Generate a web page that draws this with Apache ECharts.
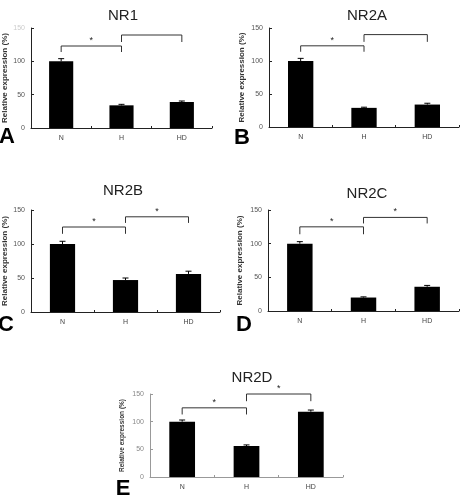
<!DOCTYPE html>
<html><head><meta charset="utf-8">
<script src="https://cdn.jsdelivr.net/npm/echarts@6/dist/echarts.min.js"></script>
<style>html,body{margin:0;padding:0;background:#fff}#c{width:464px;height:495px}</style>
</head><body><div id="c"></div>
<script>
const categories = ['N', 'H', 'HD'];
const titles = ['NR1', 'NR2A', 'NR2B', 'NR2C', 'NR2D'];
const letters = ['A', 'B', 'C', 'D', 'E'];
const yTicks = [0, 50, 100, 150];
const nr1 = [100, 34, 39];
const nr1Err = [4, 1.5, 1.5];
const nr2a = [100, 29, 34];
const nr2aErr = [4, 1, 2];
const nr2b = [100, 47, 56];
const nr2bErr = [4, 3, 4];
const nr2c = [100, 20, 36];
const nr2cErr = [3, 1, 2];
const nr2d = [100, 56, 118];
const nr2dErr = [3, 2, 3];
// brackets: [fromIndex, toIndex, topValue, legValue, star(1/0)]
const nr1Brackets = [[0, 1, 123, 114, 1], [1, 2, 139.5, 129, 0]];
const nr2aBrackets = [[0, 1, 123, 114, 1], [1, 2, 140, 129, 0]];
const nr2bBrackets = [[0, 1, 125, 115, 1], [1, 2, 140, 131, 1]];
const nr2cBrackets = [[0, 1, 125, 114, 1], [1, 2, 139, 130, 1]];
const nr2dBrackets = [[0, 1, 125, 113, 1], [1, 2, 150, 137, 1]];

const values = [nr1, nr2a, nr2b, nr2c, nr2d];
const errs = [nr1Err, nr2aErr, nr2bErr, nr2cErr, nr2dErr];
const brackets = [nr1Brackets, nr2aBrackets, nr2bBrackets, nr2cBrackets, nr2dBrackets];

const grids = [
  {left: 31, top: 28, width: 181, height: 100},
  {left: 269, top: 28, width: 190, height: 99},
  {left: 31, top: 210, width: 189, height: 102},
  {left: 268, top: 210, width: 191, height: 101},
  {left: 150, top: 394, width: 193, height: 83}
];
const titlePos = [[118, 3], [362, 3], [118, 178], [362, 181], [247, 365]];
const letterPos = [[7, 137], [242, 138], [6, 325], [244, 325], [123, 489]];
const namePos = [5, 242, 5, 240, 122];
const nameSize = [8, 8, 8, 8, 6.5];
const axisColor = ['#222', '#222', '#222', '#222', '#999'];

const F = 'Liberation Sans, Arial, sans-serif';
const option = {
  animation: false,
  backgroundColor: '#fff',
  title: titles.map((t, i) => ({
    text: t, left: titlePos[i][0], top: titlePos[i][1], textAlign: 'center',
    textStyle: {fontFamily: F, fontSize: 15, fontWeight: 'normal', color: '#222'}
  })),
  graphic: letters.map((l, i) => ({
    type: 'text', x: letterPos[i][0], y: letterPos[i][1],
    style: {text: l, fontFamily: F, fontSize: 22, fontWeight: 'bold', fill: '#000',
            align: 'center', verticalAlign: 'middle'}
  })),
  grid: grids,
  xAxis: grids.map((g, i) => ({
    type: 'category', gridIndex: i, data: categories,
    axisLine: {lineStyle: {color: axisColor[i], width: 1}},
    axisTick: {show: true, inside: true, length: 2, lineStyle: {color: axisColor[i]}},
    axisLabel: {fontFamily: F, fontSize: 7, color: '#444', margin: 7}
  })),
  yAxis: grids.map((g, i) => ({
    type: 'value', gridIndex: i, min: 0, max: 150, interval: 50,
    name: 'Relative expression (%)', nameLocation: 'middle',
    nameGap: grids[i].left - namePos[i] - 4,
    nameTextStyle: {fontFamily: F, fontSize: nameSize[i], fontWeight: 'bold', color: '#333'},
    axisLine: {show: true, lineStyle: {color: axisColor[i], width: 1}},
    axisTick: {show: true, inside: true, length: 3, lineStyle: {color: axisColor[i]}},
    splitLine: {show: false},
    axisLabel: {fontFamily: F, fontSize: 7, color: i === 4 ? '#888' : '#555', margin: 6,
      formatter: v => (i === 0 && v === 150) ? '{f|' + v + '}' : String(v),
      rich: {f: {color: '#ccc', fontSize: 7}}}
  })),
  series: []
};

for (let i = 0; i < 5; i++) {
  option.series.push({
    type: 'bar', xAxisIndex: i, yAxisIndex: i, data: values[i],
    barWidth: '40%', itemStyle: {color: '#000'}
  });
  option.series.push({
    type: 'custom', xAxisIndex: i, yAxisIndex: i,
    data: values[i].map((v, k) => [k, v, v + errs[i][k]]),
    renderItem: (params, api) => {
      const p0 = api.coord([api.value(0), api.value(1)]);
      const p1 = api.coord([api.value(0), api.value(2)]);
      const w = 3;
      return {type: 'group', children: [
        {type: 'line', shape: {x1: p0[0], y1: p0[1], x2: p1[0], y2: p1[1]}, style: {stroke: '#000', lineWidth: 1}},
        {type: 'line', shape: {x1: p1[0] - w, y1: p1[1], x2: p1[0] + w, y2: p1[1]}, style: {stroke: '#000', lineWidth: 1}}
      ]};
    },
    z: 3
  });
  option.series.push({
    type: 'custom', xAxisIndex: i, yAxisIndex: i, clip: false,
    data: brackets[i],
    renderItem: (params, api) => {
      const a = api.coord([api.value(0), api.value(2)]);
      const b = api.coord([api.value(1), api.value(2)]);
      const la = api.coord([api.value(0), api.value(3)]);
      const lb = api.coord([api.value(1), api.value(3)]);
      const col = '#333';
      const ch = [
        {type: 'polyline', shape: {points: [[la[0], la[1]], [a[0], a[1]], [b[0], b[1]], [lb[0], lb[1]]]},
         style: {stroke: col, lineWidth: 1, fill: null}}
      ];
      if (api.value(4)) {
        ch.push({type: 'text', x: (a[0] + b[0]) / 2, y: a[1] - 1,
          style: {text: '*', fontFamily: F, fontSize: 9, fill: '#222', align: 'center', verticalAlign: 'bottom'}});
      }
      return {type: 'group', children: ch};
    },
    z: 4
  });
}

const chart = echarts.init(document.getElementById('c'), null, {renderer: 'canvas'});
chart.setOption(option);
</script>
</body></html>
